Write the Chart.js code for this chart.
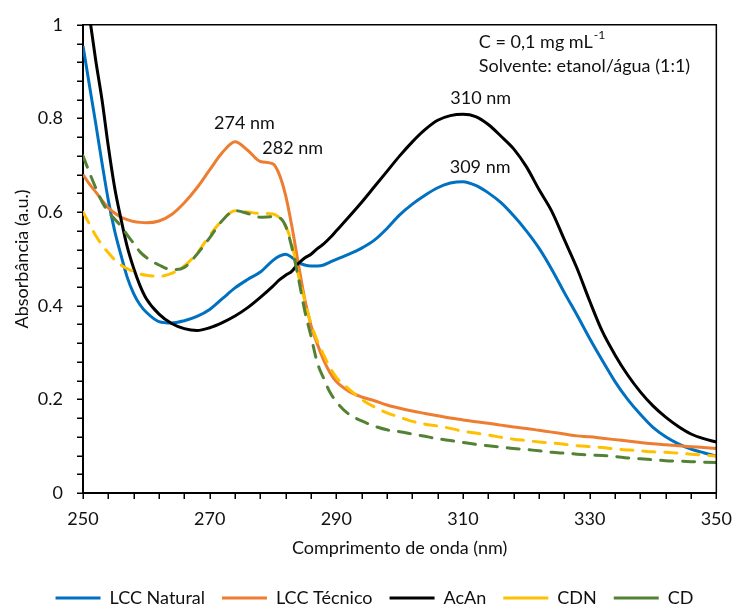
<!DOCTYPE html>
<html>
<head>
<meta charset="utf-8">
<script src="https://cdn.jsdelivr.net/npm/chart.js@4.4.1/dist/chart.umd.min.js"></script>
<style>
  html, body { margin: 0; padding: 0; background: #fff; }
</style>
</head>
<body>
<canvas id="spectra" width="741" height="607"></canvas>
<script>
// wavelength (nm) shared by every spectrum
const wavelength = [250, 251, 252, 253, 254, 255, 256, 257, 258, 259, 260,
  262, 264, 266, 268, 270, 272, 274, 276, 278,
  280, 281, 282, 283, 284, 285, 286, 287, 288, 289, 290,
  292, 294, 296, 298, 300, 302, 304, 306, 308, 310, 312, 314, 316, 318, 320,
  322, 324, 326, 328, 330, 332, 334, 336, 338, 340, 342, 344, 346, 348, 350];

const lccNatural = [0.955, 0.872, 0.79, 0.705, 0.625, 0.56, 0.508, 0.46, 0.426, 0.402, 0.386,
  0.366, 0.363, 0.368, 0.377, 0.392, 0.415, 0.438, 0.456, 0.472,
  0.497, 0.506, 0.51, 0.503, 0.492, 0.487, 0.485, 0.485, 0.487, 0.493, 0.499,
  0.51, 0.523, 0.54, 0.565, 0.594, 0.617, 0.636, 0.652, 0.662, 0.665, 0.657, 0.641, 0.62, 0.592, 0.56,
  0.523, 0.478, 0.428, 0.38, 0.33, 0.283, 0.238, 0.2, 0.168, 0.14, 0.12, 0.105, 0.094, 0.086, 0.079];

const lccTecnico = [0.68, 0.66, 0.643, 0.625, 0.609, 0.598, 0.589, 0.584, 0.58, 0.578, 0.577,
  0.581, 0.595, 0.62, 0.652, 0.69, 0.727, 0.75, 0.732, 0.708,
  0.703, 0.68, 0.635, 0.568, 0.49, 0.415, 0.358, 0.318, 0.284, 0.257, 0.238,
  0.217, 0.205, 0.197, 0.188, 0.181, 0.175, 0.17, 0.165, 0.16, 0.156, 0.152, 0.149, 0.145, 0.141, 0.138,
  0.134, 0.13, 0.126, 0.122, 0.12, 0.117, 0.114, 0.111, 0.108, 0.105, 0.103, 0.101, 0.099, 0.097, 0.095];

const acAn = [1.12, 1.02, 0.925, 0.84, 0.74, 0.652, 0.585, 0.525, 0.48, 0.443, 0.415,
  0.382, 0.362, 0.351, 0.347, 0.353, 0.364, 0.378, 0.396, 0.418,
  0.442, 0.455, 0.465, 0.474, 0.49, 0.502, 0.51, 0.522, 0.532, 0.545, 0.56,
  0.59, 0.621, 0.654, 0.687, 0.72, 0.75, 0.776, 0.796, 0.806, 0.809, 0.804, 0.787, 0.762, 0.735, 0.697,
  0.648, 0.602, 0.541, 0.48, 0.41, 0.345, 0.295, 0.252, 0.216, 0.186, 0.162, 0.142, 0.126, 0.116, 0.109];

const cdn = [0.6, 0.575, 0.55, 0.53, 0.513, 0.498, 0.487, 0.479, 0.473, 0.468, 0.465,
  0.463, 0.469, 0.485, 0.512, 0.55, 0.583, 0.603, 0.6, 0.597,
  0.596, 0.588, 0.57, 0.532, 0.465, 0.412, 0.362, 0.325, 0.295, 0.268, 0.247,
  0.222, 0.2, 0.184, 0.171, 0.162, 0.153, 0.147, 0.143, 0.138, 0.132, 0.128, 0.124, 0.119, 0.115, 0.112,
  0.109, 0.107, 0.104, 0.101, 0.099, 0.097, 0.094, 0.092, 0.09, 0.088, 0.087, 0.085, 0.083, 0.081, 0.079];

const cd = [0.72, 0.685, 0.652, 0.622, 0.6, 0.585, 0.57, 0.551, 0.533, 0.515, 0.503,
  0.487, 0.477, 0.482, 0.51, 0.545, 0.582, 0.603, 0.597, 0.589,
  0.59, 0.588, 0.57, 0.523, 0.46, 0.39, 0.335, 0.278, 0.245, 0.215, 0.195,
  0.168, 0.154, 0.143, 0.135, 0.131, 0.126, 0.121, 0.116, 0.112, 0.108, 0.104, 0.101, 0.098, 0.095, 0.093,
  0.09, 0.087, 0.085, 0.083, 0.081, 0.08, 0.078, 0.075, 0.073, 0.071, 0.069, 0.068, 0.067, 0.066, 0.065];

// text placed on the plot (data coordinates)
const peakNotes = [
  { text: '274 nm', x: 275.5, y: 0.789 },
  { text: '282 nm', x: 283.1, y: 0.736 },
  { text: '310 nm', x: 312.8, y: 0.843 },
  { text: '309 nm', x: 312.7, y: 0.696 }
];
const conditions = { x: 312.5, conc: 'C = 0,1 mg mL', sup: '-1', solvent: 'Solvente: etanol/água (1:1)' };

const FONT = 'Lato';
const TICK_LEN = 6;
Chart.defaults.font.family = FONT;
Chart.defaults.font.size = 18;
Chart.defaults.color = '#111';

function series(label, values, color, dashed, order) {
  return {
    label,
    data: wavelength.map((w, i) => ({ x: w, y: values[i] })),
    borderColor: color,
    backgroundColor: color,
    borderWidth: 3,
    borderDash: dashed ? [12, 10] : [],
    borderCapStyle: dashed ? 'round' : 'butt',
    pointRadius: 0,
    cubicInterpolationMode: 'monotone',
    fill: false,
    order
  };
}

// frame on top/right, tick marks on both axes and the text notes
const notesPlugin = {
  id: 'notes',
  afterDatasetsDraw(chart) {
    const { ctx, chartArea, scales: { x, y } } = chart;
    ctx.save();
    ctx.strokeStyle = '#000';
    ctx.lineWidth = 1.5;
    ctx.beginPath();
    ctx.moveTo(chartArea.left, chartArea.top);
    ctx.lineTo(chartArea.right, chartArea.top);
    ctx.lineTo(chartArea.right, chartArea.bottom);
    ctx.stroke();

    ctx.beginPath();
    x.ticks.forEach(t => {
      const px = Math.round(x.getPixelForValue(t.value)) + 0.25;
      ctx.moveTo(px, chartArea.bottom);
      ctx.lineTo(px, chartArea.bottom + TICK_LEN);
    });
    y.ticks.forEach(t => {
      const py = Math.round(y.getPixelForValue(t.value)) + 0.25;
      ctx.moveTo(chartArea.left, py);
      ctx.lineTo(chartArea.left - TICK_LEN, py);
    });
    ctx.stroke();

    ctx.fillStyle = '#111';
    ctx.font = '18px ' + FONT;
    ctx.textBaseline = 'middle';
    ctx.textAlign = 'center';
    peakNotes.forEach(n => ctx.fillText(n.text, x.getPixelForValue(n.x), y.getPixelForValue(n.y)));

    ctx.textAlign = 'left';
    const cx = x.getPixelForValue(conditions.x);
    const cy = y.getPixelForValue(0.962);
    ctx.fillText(conditions.conc, cx, cy);
    const w = ctx.measureText(conditions.conc).width;
    ctx.font = '12px ' + FONT;
    ctx.fillText(conditions.sup, cx + w + 1, cy - 7);
    ctx.font = '18px ' + FONT;
    ctx.fillText(conditions.solvent, cx, y.getPixelForValue(0.911));
    ctx.restore();
  }
};

// grid hidden: the tick marks are stroked by the plugin, tickLength keeps the label spacing
const axisGrid = { display: false, drawTicks: true, tickLength: TICK_LEN };

new Chart(document.getElementById('spectra'), {
  type: 'line',
  data: {
    datasets: [
      series('LCC Natural', lccNatural, '#0070C0', false, 5),
      series('LCC Técnico', lccTecnico, '#ED7D31', false, 4),
      series('AcAn', acAn, '#000000', false, 3),
      series('CDN', cdn, '#FFC000', true, 2),
      series('CD', cd, '#548235', true, 1)
    ]
  },
  options: {
    responsive: false,
    animation: false,
    layout: { padding: { left: 26, right: 18, top: 23, bottom: -10 } },
    plugins: {
      legend: {
        position: 'bottom',
        labels: {
          usePointStyle: true,
          pointStyle: 'line',
          pointStyleWidth: 45,
          padding: 17,
          color: '#111',
          sort: (a, b) => a.datasetIndex - b.datasetIndex
        }
      },
      tooltip: { enabled: false }
    },
    scales: {
      x: {
        type: 'linear',
        min: 250,
        max: 350,
        afterFit: scale => { scale.height = 79; },
        border: { display: true, color: '#000', width: 2 },
        grid: axisGrid,
        ticks: {
          stepSize: 4,
          autoSkip: false,
          maxRotation: 0,
          padding: 9,
          color: '#111',
          callback: v => ((v - 250) % 20 === 0 ? v : '')
        },
        title: { display: true, text: 'Comprimento de onda (nm)', color: '#111', padding: { top: 0, bottom: 13 } }
      },
      y: {
        min: 0,
        max: 1,
        afterFit: scale => { scale.width = 57; },
        border: { display: true, color: '#000', width: 2 },
        grid: axisGrid,
        ticks: {
          stepSize: 0.04,
          autoSkip: false,
          padding: 14,
          color: '#111',
          callback: v => (Math.abs(v * 5 - Math.round(v * 5)) < 1e-6 ? String(Math.round(v * 5) / 5) : '')
        },
        title: { display: true, text: 'Absorbância (a.u.)', color: '#111', padding: { top: -15, bottom: 0 } }
      }
    }
  },
  plugins: [notesPlugin]
});
</script>
</body>
</html>
